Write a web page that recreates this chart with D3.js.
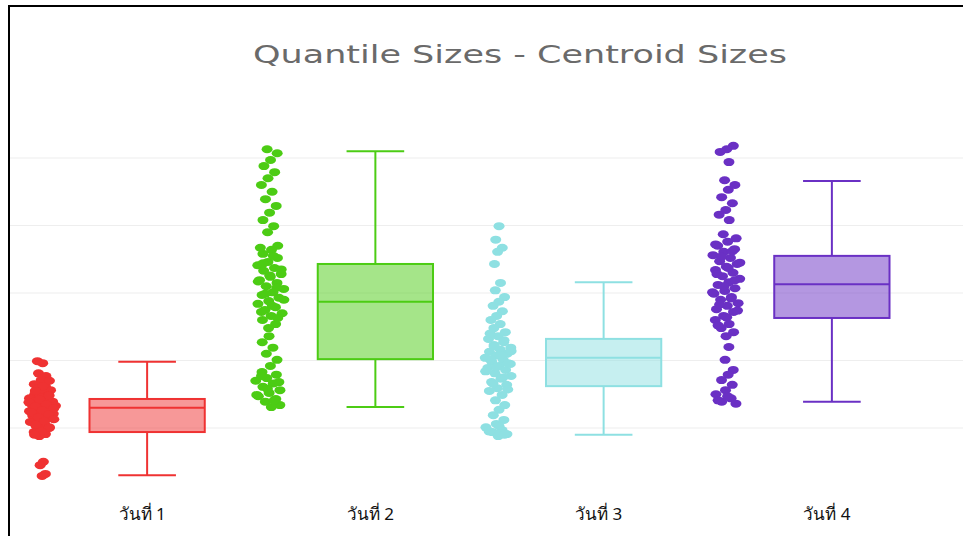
<!DOCTYPE html>
<html><head><meta charset="utf-8">
<script src="https://cdn.jsdelivr.net/npm/d3@7"></script>
<style>html,body{margin:0;padding:0;background:#fff;}svg{display:block;}</style>
</head><body>
<svg id="chart" width="963" height="536"></svg>
<script>
const categories = ["วันที่ 1", "วันที่ 2", "วันที่ 3", "วันที่ 4"];
const colors = ["#ef3232", "#4ccc14", "#8ee0e2", "#6a30c4"];
const yTicks = [1, 2, 3, 4, 5];

// box statistics
const lowerFence = [0.30, 1.31, 0.90, 1.39];
const q1 = [0.94, 2.02, 1.62, 2.63];
const median = [1.30, 2.87, 2.04, 3.13];
const q3 = [1.43, 3.43, 2.32, 3.55];
const upperFence = [1.98, 5.10, 3.16, 4.66];

// sample points
const points1 = [1.99,1.96,1.81,1.77,1.71,1.65,1.62,1.59,1.56,1.53,1.50,1.49,1.46,1.44,1.41,1.40,1.39,1.37,1.36,1.34,1.33,1.33,1.31,1.30,1.28,1.27,1.25,1.24,1.22,1.21,1.19,1.18,1.15,1.12,1.09,1.06,1.03,1.00,0.97,0.94,0.91,0.88,
  1.70,1.62,1.55,1.48,1.42,1.38,1.35,1.32,1.29,1.26,1.23,1.20,1.16,1.13,1.10,1.05,1.01,0.95,0.90,
  0.50,0.45,0.32,0.29];
const points2 = [5.13,5.07,4.97,4.88,4.79,4.70,4.60,4.50,4.39,4.29,4.19,4.08,3.99,3.90,
  3.70,3.64,3.58,3.52,3.46,3.41,3.37,3.33,3.28,3.24,3.19,3.15,3.10,3.06,3.01,2.97,2.93,2.88,2.84,2.79,2.75,2.70,2.66,2.60,2.54,2.48,
  3.67,3.55,3.44,3.35,3.26,3.17,3.08,2.99,2.90,2.81,2.72,2.63,
  2.36,2.27,2.19,2.10,2.01,1.92,
  1.83,1.79,1.74,1.70,1.66,1.61,1.56,1.52,1.47,1.43,1.39,1.34,1.31,1.77,1.68,1.58,1.49,1.41];
const points3 = [3.99,3.79,3.67,3.61,3.43,3.15,3.04,2.94,2.87,2.81,2.73,2.66,2.60,2.54,2.48,2.42,2.36,2.32,2.27,2.23,2.19,2.16,2.13,2.10,2.07,2.04,2.01,1.98,1.95,1.92,1.89,1.86,1.81,1.77,1.73,1.68,1.64,1.59,1.55,1.49,1.41,1.34,1.27,1.19,1.12,1.06,1.01,0.97,0.94,0.91,0.88,
  2.40,2.30,2.21,2.14,2.08,2.02,1.96,1.90,1.84,1.75,1.66,1.57,1.03,0.95,0.90];
const points4 = [5.18,5.13,5.09,4.94,4.67,4.60,4.53,4.42,4.33,4.23,4.16,4.08,
  3.87,3.81,3.76,3.70,3.65,3.61,3.56,3.52,3.47,3.43,3.39,3.34,3.30,3.25,3.21,3.16,3.12,3.07,3.03,2.99,2.94,2.90,2.85,2.81,2.76,2.72,2.66,2.60,2.54,2.48,2.42,2.36,
  3.72,3.62,3.54,3.45,3.37,3.28,3.19,3.10,3.01,2.92,2.83,2.74,2.64,2.52,
  2.20,2.01,1.86,1.79,1.71,1.64,1.56,1.50,1.44,1.39,1.36,1.47,1.41];
const pointSets = [points1, points2, points3, points4];

const svg = d3.select("#chart");
const W = 963, H = 536;

const x = d3.scaleBand().domain(categories).range([33, 946]).padding(0);
const y = d3.scaleLinear().domain([1, 5]).range([428, 158]);

// grid
svg.append("g").selectAll("line").data(yTicks).join("line")
  .attr("x1", 10).attr("x2", W).attr("y1", d => y(d)).attr("y2", d => y(d))
  .attr("stroke", "#eeeeee").attr("stroke-width", 1.2);

// frame
svg.append("line").attr("x1", 9).attr("x2", 9).attr("y1", 5).attr("y2", H).attr("stroke", "#000").attr("stroke-width", 2);
svg.append("line").attr("x1", 8).attr("x2", W).attr("y1", 6).attr("y2", 6).attr("stroke", "#000").attr("stroke-width", 2);

// title
svg.append("text").attr("x", 520).attr("y", 63).attr("text-anchor", "middle")
  .attr("font-family", "'DejaVu Sans', Verdana, sans-serif").attr("font-size", 25)
  .attr("fill", "#6a6a6a").attr("textLength", 534).attr("lengthAdjust", "spacingAndGlyphs")
  .text("Quantile Sizes - Centroid Sizes");

const bw = x.bandwidth();
const boxW = bw * 0.505;

categories.forEach((c, i) => {
  const cx = x(c) + bw / 2;
  const g = svg.append("g");
  const col = colors[i];
  // whiskers
  g.append("line").attr("x1", cx).attr("x2", cx).attr("y1", y(upperFence[i])).attr("y2", y(q3[i])).attr("stroke", col).attr("stroke-width", 2);
  g.append("line").attr("x1", cx).attr("x2", cx).attr("y1", y(q1[i])).attr("y2", y(lowerFence[i])).attr("stroke", col).attr("stroke-width", 2);
  [upperFence[i], lowerFence[i]].forEach(v => {
    g.append("line").attr("x1", cx - boxW / 4).attr("x2", cx + boxW / 4).attr("y1", y(v)).attr("y2", y(v)).attr("stroke", col).attr("stroke-width", 2);
  });
  g.append("rect").attr("x", cx - boxW / 2).attr("width", boxW)
    .attr("y", y(q3[i])).attr("height", y(q1[i]) - y(q3[i]))
    .attr("fill", col).attr("fill-opacity", 0.5).attr("stroke", col).attr("stroke-width", 2);
  g.append("line").attr("x1", cx - boxW / 2).attr("x2", cx + boxW / 2).attr("y1", y(median[i])).attr("y2", y(median[i])).attr("stroke", col).attr("stroke-width", 2);

  // points, jitter scaled by local density (like plotly)
  const pts = pointSets[i];
  const dens = pts.map(v => pts.filter(w => Math.abs(w - v) < 0.12).length);
  const maxD = d3.max(dens);
  const px = cx - bw * 0.462;
  g.append("g").selectAll("ellipse").data(pts).join("ellipse")
    .attr("cx", (d, k) => px + (((k * 0.618034 + i * 0.3) % 1) - 0.5) * 30 * Math.sqrt(dens[k] / maxD))
    .attr("cy", d => y(d))
    .attr("rx", 5.5).attr("ry", 4)
    .attr("fill", col);

  // label
  svg.append("text").attr("x", cx - 5).attr("y", 520).attr("text-anchor", "middle")
    .attr("font-family", "'Noto Sans', 'DejaVu Sans', sans-serif").attr("font-size", 17)
    .attr("fill", "#111").text(c);
});
</script>
</body></html>
